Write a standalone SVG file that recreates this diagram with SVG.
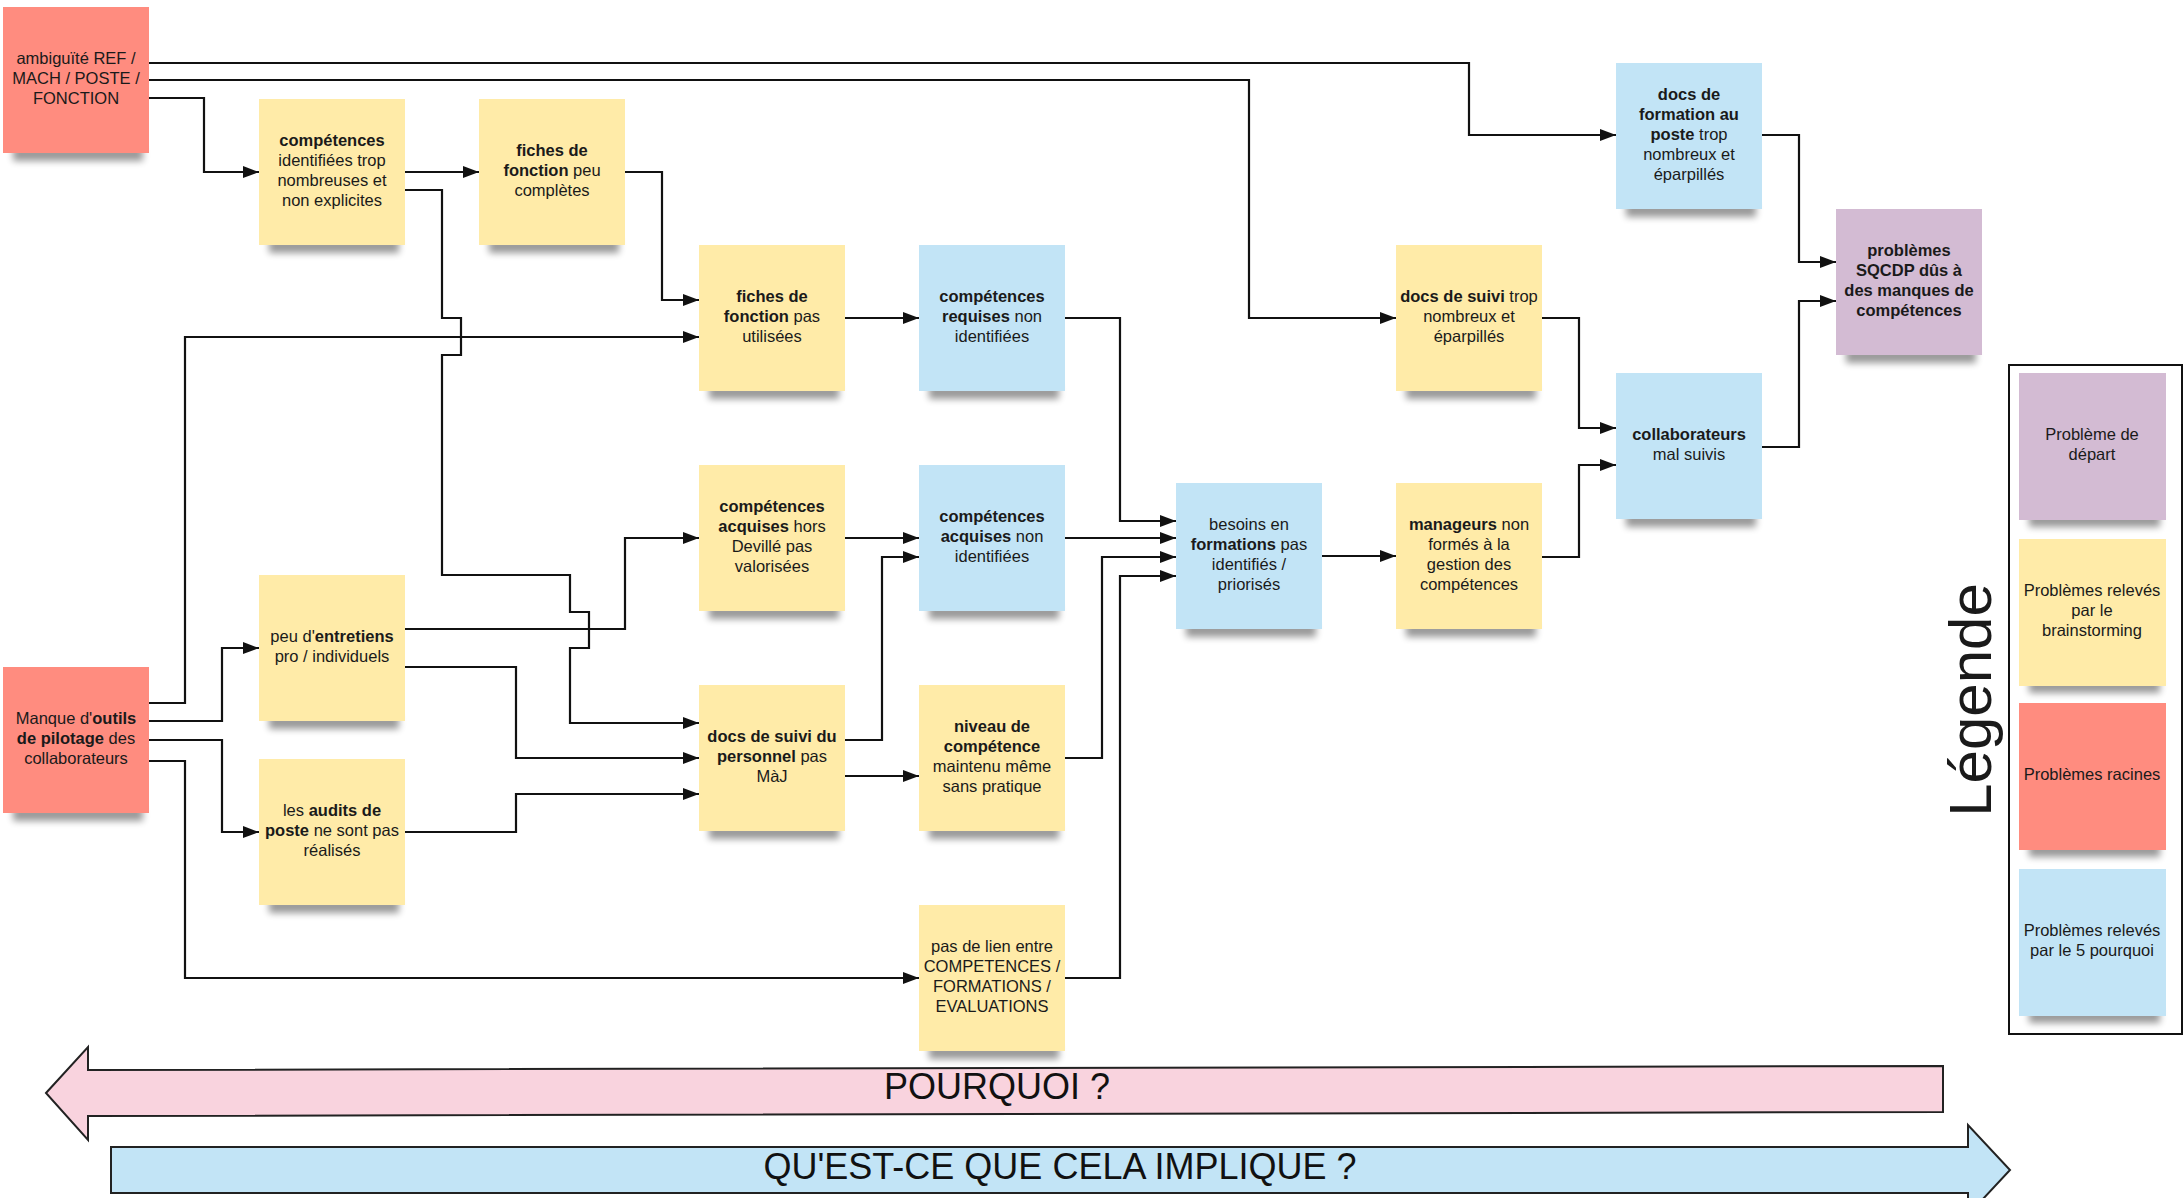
<svg xmlns="http://www.w3.org/2000/svg" width="2184" height="1198" viewBox="0 0 2184 1198">
<defs>
<filter id="blur" x="-20%" y="-100%" width="140%" height="300%"><feGaussianBlur stdDeviation="3.5"/></filter>
<marker id="ah" markerWidth="16" markerHeight="12" refX="16" refY="6" orient="auto" markerUnits="userSpaceOnUse"><path d="M0,0 L16,6 L0,12 z" fill="#111"/></marker>
</defs>
<style>
.sh{fill:#000;opacity:.4;filter:url(#blur)}
.y{fill:#FFEBA8}.b{fill:#C2E4F6}.r{fill:#FF8C7F}.p{fill:#D3BBD3}
text{font-family:"Liberation Sans",Arial,sans-serif;font-size:16.5px;fill:#1a1a1a;text-anchor:middle}
g[id^="n-"] text, g[id^="leg-"] text{transform:translateY(-1.5px)}
.bd{font-weight:bold}
.c path{fill:none;stroke:#111;stroke-width:2.2;marker-end:url(#ah)}
.big{stroke:#222;stroke-width:2}
.bigt{font-size:36px;fill:#111}
</style>
<rect x="0" y="0" width="2184" height="1198" fill="#fff"/>

<g id="connectors" class="c">
<path d="M149,63 H1469 V135 H1616"/>
<path d="M149,80 H1249 V318 H1396"/>
<path d="M149,98 H204 V172 H259"/>
<path d="M405,172 H479"/>
<path d="M405,190 H442 V318 H461 V355 H442 V575 H570 V612 H589 V648 H570 V723 H699"/>
<path d="M625,172 H662 V300 H699"/>
<path d="M149,703 H185 V337 H699"/>
<path d="M149,721 H222 V648 H259"/>
<path d="M149,740 H222 V832 H259"/>
<path d="M149,761 H185 V978 H919"/>
<path d="M405,629 H625 V538 H699"/>
<path d="M405,667 H516 V758 H699"/>
<path d="M405,832 H516 V794 H699"/>
<path d="M845,318 H919"/>
<path d="M1065,318 H1120 V521 H1176"/>
<path d="M845,538 H919"/>
<path d="M1065,538 H1176"/>
<path d="M845,740 H882 V557 H919"/>
<path d="M845,776 H919"/>
<path d="M1065,758 H1102 V557 H1176"/>
<path d="M1065,978 H1120 V576 H1176"/>
<path d="M1322,556 H1396"/>
<path d="M1542,318 H1579 V428 H1616"/>
<path d="M1542,557 H1579 V465 H1616"/>
<path d="M1762,135 H1799 V262 H1836"/>
<path d="M1762,447 H1799 V301 H1836"/>
</g>

<g id="n-ambiguite"><rect class="sh" x="13" y="147" width="130" height="14"/><rect class="r" x="3" y="7" width="146" height="146"/>
<text x="76" y="65">ambiguïté REF /</text><text x="76" y="85">MACH / POSTE /</text><text x="76" y="105">FONCTION</text></g>

<g id="n-comp-ident"><rect class="sh" x="269" y="239" width="130" height="14"/><rect class="y" x="259" y="99" width="146" height="146"/>
<text x="332" y="147" class="bd">compétences</text><text x="332" y="167">identifiées trop</text><text x="332" y="187">nombreuses et</text><text x="332" y="207">non explicites</text></g>

<g id="n-fiches-peu"><rect class="sh" x="489" y="239" width="130" height="14"/><rect class="y" x="479" y="99" width="146" height="146"/>
<text x="552" y="157" class="bd">fiches de</text><text x="552" y="177"><tspan class="bd">fonction</tspan> peu</text><text x="552" y="197">complètes</text></g>

<g id="n-fiches-pas"><rect class="sh" x="709" y="385" width="130" height="14"/><rect class="y" x="699" y="245" width="146" height="146"/>
<text x="772" y="303" class="bd">fiches de</text><text x="772" y="323"><tspan class="bd">fonction</tspan> pas</text><text x="772" y="343">utilisées</text></g>

<g id="n-comp-req"><rect class="sh" x="929" y="385" width="130" height="14"/><rect class="b" x="919" y="245" width="146" height="146"/>
<text x="992" y="303" class="bd">compétences</text><text x="992" y="323"><tspan class="bd">requises</tspan> non</text><text x="992" y="343">identifiées</text></g>

<g id="n-docs-formation"><rect class="sh" x="1626" y="203" width="130" height="14"/><rect class="b" x="1616" y="63" width="146" height="146"/>
<text x="1689" y="101" class="bd">docs de</text><text x="1689" y="121" class="bd">formation au</text><text x="1689" y="141"><tspan class="bd">poste</tspan> trop</text><text x="1689" y="161">nombreux et</text><text x="1689" y="181">éparpillés</text></g>

<g id="n-docs-suivi-trop"><rect class="sh" x="1406" y="385" width="130" height="14"/><rect class="y" x="1396" y="245" width="146" height="146"/>
<text x="1469" y="303"><tspan class="bd">docs de suivi</tspan> trop</text><text x="1469" y="323">nombreux et</text><text x="1469" y="343">éparpillés</text></g>

<g id="n-sqcdp"><rect class="sh" x="1846" y="349" width="130" height="14"/><rect class="p" x="1836" y="209" width="146" height="146"/>
<text x="1909" y="257" class="bd">problèmes</text><text x="1909" y="277" class="bd">SQCDP dûs à</text><text x="1909" y="297" class="bd">des manques de</text><text x="1909" y="317" class="bd">compétences</text></g>

<g id="n-collab"><rect class="sh" x="1626" y="513" width="130" height="14"/><rect class="b" x="1616" y="373" width="146" height="146"/>
<text x="1689" y="441" class="bd">collaborateurs</text><text x="1689" y="461">mal suivis</text></g>

<g id="n-comp-acq-hors"><rect class="sh" x="709" y="605" width="130" height="14"/><rect class="y" x="699" y="465" width="146" height="146"/>
<text x="772" y="513" class="bd">compétences</text><text x="772" y="533"><tspan class="bd">acquises</tspan> hors</text><text x="772" y="553">Devillé pas</text><text x="772" y="573">valorisées</text></g>

<g id="n-comp-acq-non"><rect class="sh" x="929" y="605" width="130" height="14"/><rect class="b" x="919" y="465" width="146" height="146"/>
<text x="992" y="523" class="bd">compétences</text><text x="992" y="543"><tspan class="bd">acquises</tspan> non</text><text x="992" y="563">identifiées</text></g>

<g id="n-besoins"><rect class="sh" x="1186" y="623" width="130" height="14"/><rect class="b" x="1176" y="483" width="146" height="146"/>
<text x="1249" y="531">besoins en</text><text x="1249" y="551"><tspan class="bd">formations</tspan> pas</text><text x="1249" y="571">identifiés /</text><text x="1249" y="591">priorisés</text></g>

<g id="n-manageurs"><rect class="sh" x="1406" y="623" width="130" height="14"/><rect class="y" x="1396" y="483" width="146" height="146"/>
<text x="1469" y="531"><tspan class="bd">manageurs</tspan> non</text><text x="1469" y="551">formés à la</text><text x="1469" y="571">gestion des</text><text x="1469" y="591">compétences</text></g>

<g id="n-entretiens"><rect class="sh" x="269" y="715" width="130" height="14"/><rect class="y" x="259" y="575" width="146" height="146"/>
<text x="332" y="643">peu d'<tspan class="bd">entretiens</tspan></text><text x="332" y="663">pro / individuels</text></g>

<g id="n-manque-outils"><rect class="sh" x="13" y="807" width="130" height="14"/><rect class="r" x="3" y="667" width="146" height="146"/>
<text x="76" y="725">Manque d'<tspan class="bd">outils</tspan></text><text x="76" y="745"><tspan class="bd">de pilotage</tspan> des</text><text x="76" y="765">collaborateurs</text></g>

<g id="n-docs-suivi-pers"><rect class="sh" x="709" y="825" width="130" height="14"/><rect class="y" x="699" y="685" width="146" height="146"/>
<text x="772" y="743" class="bd">docs de suivi du</text><text x="772" y="763"><tspan class="bd">personnel</tspan> pas</text><text x="772" y="783">MàJ</text></g>

<g id="n-niveau"><rect class="sh" x="929" y="825" width="130" height="14"/><rect class="y" x="919" y="685" width="146" height="146"/>
<text x="992" y="733" class="bd">niveau de</text><text x="992" y="753" class="bd">compétence</text><text x="992" y="773">maintenu même</text><text x="992" y="793">sans pratique</text></g>

<g id="n-audits"><rect class="sh" x="269" y="899" width="130" height="14"/><rect class="y" x="259" y="759" width="146" height="146"/>
<text x="332" y="817">les <tspan class="bd">audits de</tspan></text><text x="332" y="837"><tspan class="bd">poste</tspan> ne sont pas</text><text x="332" y="857">réalisés</text></g>

<g id="n-pas-de-lien"><rect class="sh" x="929" y="1045" width="130" height="14"/><rect class="y" x="919" y="905" width="146" height="146"/>
<text x="992" y="953">pas de lien entre</text><text x="992" y="973">COMPETENCES /</text><text x="992" y="993">FORMATIONS /</text><text x="992" y="1013">EVALUATIONS</text></g>

<g id="legend">
<rect x="2009" y="365" width="173" height="669" fill="none" stroke="#111" stroke-width="2"/>
<text transform="translate(1991,700) rotate(-90)" style="font-size:60px">Légende</text>
<g id="leg-depart"><rect class="sh" x="2029" y="513" width="131" height="14"/><rect class="p" x="2019" y="373" width="147" height="147"/>
<text x="2092" y="441">Problème de</text><text x="2092" y="461">départ</text></g>
<g id="leg-brainstorming"><rect class="sh" x="2029" y="679" width="131" height="14"/><rect class="y" x="2019" y="539" width="147" height="147"/>
<text x="2092" y="597">Problèmes relevés</text><text x="2092" y="617">par le</text><text x="2092" y="637">brainstorming</text></g>
<g id="leg-racines"><rect class="sh" x="2029" y="843" width="131" height="14"/><rect class="r" x="2019" y="703" width="147" height="147"/>
<text x="2092" y="781">Problèmes racines</text></g>
<g id="leg-5pourquoi"><rect class="sh" x="2029" y="1009" width="131" height="14"/><rect class="b" x="2019" y="869" width="147" height="147"/>
<text x="2092" y="937">Problèmes relevés</text><text x="2092" y="957">par le 5 pourquoi</text></g>
</g>

<g id="arrow-pourquoi">
<polygon class="big" points="46,1093 88,1047 88,1070 1943,1066 1943,1112 88,1116 88,1140" fill="#F9D3DE"/>
<text class="bigt" x="997" y="1099">POURQUOI ?</text>
</g>
<g id="arrow-implique">
<polygon class="big" points="111,1147 1968,1147 1968,1125 2010,1170 1968,1215 1968,1193 111,1193" fill="#C2E4F6"/>
<text class="bigt" x="1060" y="1179">QU'EST-CE QUE CELA IMPLIQUE ?</text>
</g>
</svg>
